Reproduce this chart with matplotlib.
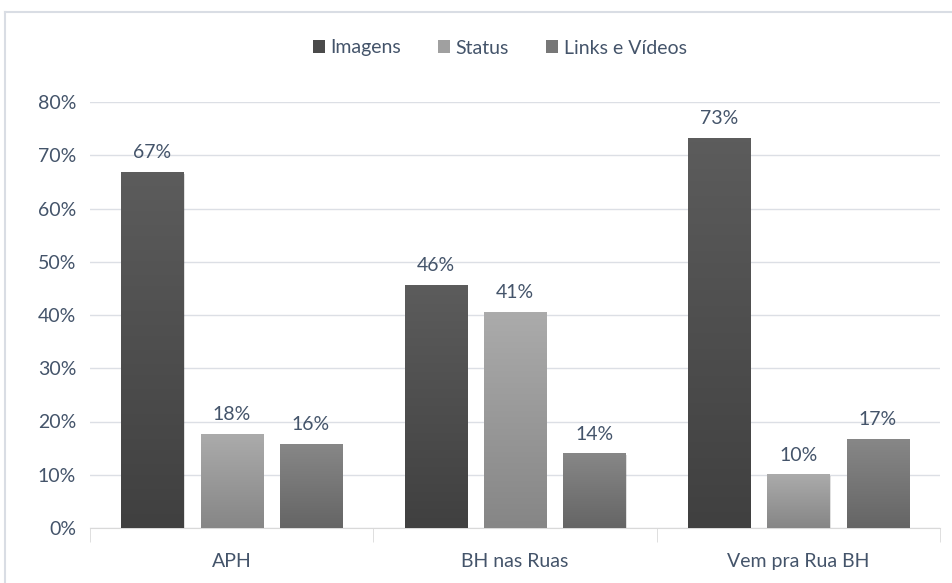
import matplotlib
matplotlib.use('Agg')
import matplotlib.pyplot as plt
import numpy as np
from matplotlib.patches import Patch
from matplotlib.lines import Line2D

categories = ['APH', 'BH nas Ruas', 'Vem pra Rua BH']
series = ['Imagens', 'Status', 'Links e Vídeos']
imagens = [66.8, 45.6, 73.2]
status = [17.6, 40.5, 10.0]
links = [15.7, 13.9, 16.6]
labels = [['67%', '46%', '73%'], ['18%', '41%', '10%'], ['16%', '14%', '17%']]
yticks = [0, 10, 20, 30, 40, 50, 60, 70, 80]

values = [imagens, status, links]
# top/bottom of each gradient
grads = [('#5c5c5c', '#404040'), ('#ababab', '#868686'), ('#878787', '#656565')]
legend_colors = ['#4a4a4a', '#a0a0a0', '#777777']
text_color = '#44546a'

plt.rcParams['font.family'] = ['Lato', 'DejaVu Sans']
fs = 14

fig = plt.figure(figsize=(9.52, 5.83), dpi=100)
ax = fig.add_axes([90/952, 1 - 528/583, 850/952, (528 - 102)/583])

# chart border
fig.add_artist(Line2D([5/952, 1], [1 - 12/583, 1 - 12/583], color='#d9dde4', lw=1.5))
fig.add_artist(Line2D([5/952, 5/952], [0, 1 - 12/583], color='#d9dde4', lw=1.5))

w = 0.22
offsets = [-0.28, 0, 0.28]
x = np.arange(len(categories))

for s in range(3):
    top, bot = grads[s]
    c1 = np.array(matplotlib.colors.to_rgb(top))
    c2 = np.array(matplotlib.colors.to_rgb(bot))
    g = np.linspace(0, 1, 100)[:, None]
    img = (c1[None, :] * (1 - g) + c2[None, :] * g)[:, None, :]
    for i in range(3):
        xc = x[i] + offsets[s]
        v = values[s][i]
        # shadow
        ax.bar(xc + 0.004, v, width=w, bottom=-0.25, color='#000000', alpha=0.12, zorder=2)
        ax.imshow(img, extent=[xc - w/2, xc + w/2, 0, v], aspect='auto', zorder=3, origin='upper')
        ax.annotate(labels[s][i], (xc, v), xytext=(0, 8), textcoords='offset points',
                    ha='center', va='bottom', fontsize=fs, color=text_color)

ax.set_xlim(-0.5, 2.5)
ax.set_ylim(0, 80)
ax.set_yticks(yticks)
ax.set_yticklabels([f'{t}%' for t in yticks], fontsize=fs, color=text_color)
ax.yaxis.grid(True, color='#dcdfe5', lw=1)
ax.set_axisbelow(True)
ax.tick_params(axis='y', length=0, pad=10)
ax.set_xticks(x)
ax.set_xticklabels(categories, fontsize=fs, color=text_color)
ax.tick_params(axis='x', length=0, pad=18)
ax.set_xticks([-0.5, 0.5, 1.5, 2.5], minor=True)
ax.tick_params(axis='x', which='minor', length=10, color='#d9d9d9')
for sp in ['top', 'right', 'left']:
    ax.spines[sp].set_visible(False)
ax.spines['bottom'].set_color('#d9d9d9')

handles = [Patch(facecolor=c, edgecolor='none') for c in legend_colors]
leg = fig.legend(handles, series, loc='center', bbox_to_anchor=(0.525, 1 - 48/583), ncol=3,
                 frameon=False, fontsize=fs, handlelength=0.6, handleheight=0.6,
                 handletextpad=0.3, columnspacing=1.9)
for t in leg.get_texts():
    t.set_color(text_color)

fig.savefig('out.png', dpi=100)
